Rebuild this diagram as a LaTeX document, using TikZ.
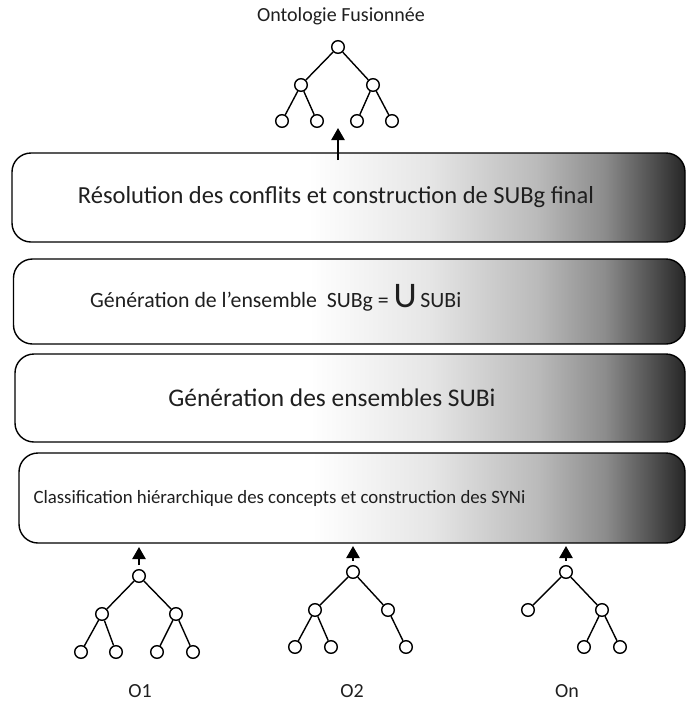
\documentclass[tikz,border=0pt]{standalone}
\usepackage{fontspec}
\setmainfont{Carlito}
\usetikzlibrary{arrows.meta}
\pgfdeclarehorizontalshading{boxshade}{100bp}{color(0bp)=(white); color(25bp)=(white); color(47bp)=(white); color(56bp)=(black!10); color(64bp)=(black!27); color(69bp)=(black!45); color(72.5bp)=(black!68); color(75bp)=(black!85); color(100bp)=(black!85)}
\begin{document}
\begin{tikzpicture}[x=1pt,y=-1pt,
  layer/.style={draw=black, line width=1.4pt, rounded corners=19pt, shading=boxshade, inner sep=0pt, outer sep=0pt},
  boxtext/.style={text=black!88, inner sep=0pt, anchor=base},
  tn/.style={circle, draw=black, line width=1.4pt, minimum size=12.6pt, inner sep=0pt, fill=white},
  edge/.style={line width=1.4pt},
  uparrow/.style={line width=2.4pt, -{Triangle[width=13pt,length=12pt]}},
  lbl/.style={font=\fontsize{20}{23}\selectfont, text=black!88, inner sep=0pt, anchor=base}]
\useasboundingbox (0,0) rectangle (687,713);

% title
\node[lbl] (title) at (341,21) {Ontologie Fusionnée};

% layers
\node[layer, minimum width=673pt, minimum height=89pt] (box1) at (348.5,197.5) {};
\node[layer, minimum width=671.5pt, minimum height=85pt] (box2) at (349.25,301.5) {};
\node[layer, minimum width=670pt, minimum height=88pt] (box3) at (350,398) {};
\node[layer, minimum width=666pt, minimum height=90pt] (box4) at (352,498) {};

\node[boxtext, font=\fontsize{24.5}{28}\selectfont] (t1) at (336,203) {Résolution des conflits et construction de SUBg final};
\node[boxtext, anchor=base west, font=\fontsize{21.8}{25}\selectfont] (t2) at (90,307.5) {Génération de l’ensemble\ \ SUBg = {\fontsize{36}{36}\selectfont U}\,SUBi};
\node[boxtext, font=\fontsize{25.4}{29}\selectfont] (t3) at (332,406) {Génération des ensembles SUBi};
\node[boxtext, font=\fontsize{18.8}{22}\selectfont] (t4) at (279.5,503) {Classification hiérarchique des concepts et construction des SYNi};

% top tree
\node[tn] (f0) at (338,47) {};
\node[tn] (fl) at (301,85) {};
\node[tn] (fr) at (373,85) {};
\node[tn] (fll) at (282,121) {};
\node[tn] (flr) at (317,121) {};
\node[tn] (frl) at (357,121) {};
\node[tn] (frr) at (392,121) {};
\draw[edge] (f0) -- (fl) (f0) -- (fr) (fl) -- (fll) (fl) -- (flr) (fr) -- (frl) (fr) -- (frr);
\draw[uparrow] ([yshift=-7pt]box1.north -| f0.south) -- ([yshift=25pt]box1.north -| f0.south);

% O1 tree
\node[tn] (a0) at (139,576) {};
\node[tn] (al) at (102,614) {};
\node[tn] (ar) at (176,614) {};
\node[tn] (all) at (81,652) {};
\node[tn] (alr) at (116,652) {};
\node[tn] (arl) at (157,652) {};
\node[tn] (arr) at (193,652) {};
\draw[edge] (a0) -- (al) (a0) -- (ar) (al) -- (all) (al) -- (alr) (ar) -- (arl) (ar) -- (arr);
\draw[uparrow] ([yshift=4pt]a0.north) -- ([yshift=-4pt]a0.north |- box4.south);
\node[lbl] (o1) at (140,697) {O1};

% O2 tree
\node[tn] (b0) at (353,572) {};
\node[tn] (bl) at (315,610) {};
\node[tn] (br) at (388,610) {};
\node[tn] (bll) at (295,647) {};
\node[tn] (blr) at (331,647) {};
\node[tn] (brr) at (406,647) {};
\draw[edge] (b0) -- (bl) (b0) -- (br) (bl) -- (bll) (bl) -- (blr) (br) -- (brr);
\draw[uparrow] ([yshift=4pt]b0.north) -- ([yshift=-3pt]b0.north |- box4.south);
\node[lbl] (o2) at (352,697) {O2};

% On tree
\node[tn] (c0) at (566,572) {};
\node[tn] (cl) at (528,610) {};
\node[tn] (cr) at (602,610) {};
\node[tn] (crl) at (584,647) {};
\node[tn] (crr) at (620,647) {};
\draw[edge] (c0) -- (cl) (c0) -- (cr) (cr) -- (crl) (cr) -- (crr);
\draw[uparrow] ([yshift=4pt]c0.north) -- ([yshift=-3pt]c0.north |- box4.south);
\node[lbl] (on) at (567,697) {On};
\end{tikzpicture}
\end{document}
